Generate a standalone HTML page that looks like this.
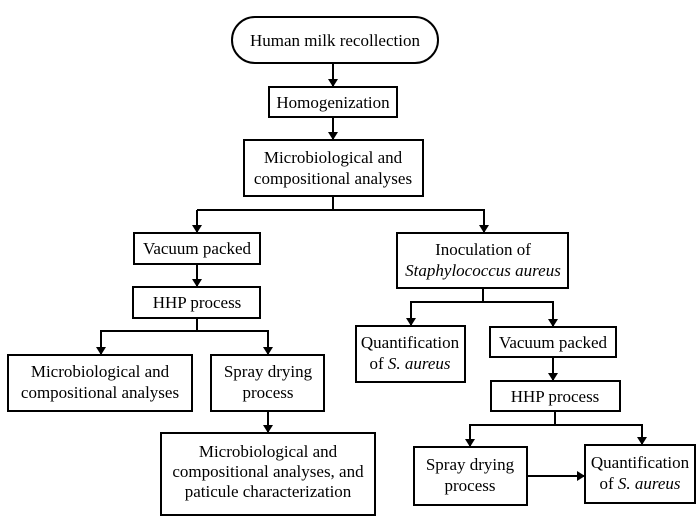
<!DOCTYPE html>
<html><head><meta charset="utf-8"><style>
html,body{margin:0;padding:0;background:#fff;}
svg{display:block;}
svg text{font-family:"Liberation Serif","DejaVu Serif",serif;font-size:17px;fill:#000;text-anchor:middle;}
.b{fill:#fff;stroke:#000;stroke-width:2;}
.l{stroke:#000;stroke-width:2;fill:none;}
</style></head><body>
<svg width="700" height="523" viewBox="0 0 700 523" xmlns="http://www.w3.org/2000/svg" font-family="Liberation Serif, serif">
<defs><marker id="a" markerWidth="8" markerHeight="10" refX="7" refY="5" orient="auto" markerUnits="userSpaceOnUse"><path d="M0,0 L8,5 L0,10 Z" fill="#000"/></marker></defs>
<rect class="b" x="232" y="17" width="206" height="46" rx="23"/>
<text x="335" y="46" font-family="Liberation Serif, serif">Human milk recollection</text>
<rect class="b" x="269" y="87" width="128" height="30"/>
<text x="333" y="108" font-family="Liberation Serif, serif">Homogenization</text>
<rect class="b" x="244" y="140" width="179" height="56"/>
<text x="333" y="163" font-family="Liberation Serif, serif">Microbiological and</text>
<text x="333" y="184" font-family="Liberation Serif, serif">compositional analyses</text>
<rect class="b" x="134" y="233" width="126" height="31"/>
<text x="197" y="254" font-family="Liberation Serif, serif">Vacuum packed</text>
<rect class="b" x="133" y="287" width="127" height="31"/>
<text x="197" y="308" font-family="Liberation Serif, serif">HHP process</text>
<rect class="b" x="8" y="355" width="184" height="56"/>
<text x="100" y="377" font-family="Liberation Serif, serif">Microbiological and</text>
<text x="100" y="398" font-family="Liberation Serif, serif">compositional analyses</text>
<rect class="b" x="211" y="355" width="113" height="56"/>
<text x="268" y="377" font-family="Liberation Serif, serif">Spray  drying</text>
<text x="268" y="398" font-family="Liberation Serif, serif">process</text>
<rect class="b" x="161" y="433" width="214" height="82"/>
<text x="268" y="457" font-family="Liberation Serif, serif">Microbiological and</text>
<text x="268" y="477" font-family="Liberation Serif, serif">compositional analyses,  and</text>
<text x="268" y="497" font-family="Liberation Serif, serif">paticule characterization</text>
<rect class="b" x="397" y="233" width="171" height="55"/>
<text x="483" y="255" font-family="Liberation Serif, serif">Inoculation of</text>
<text x="483" y="276" font-style="italic" font-family="Liberation Serif, serif">Staphylococcus aureus</text>
<rect class="b" x="356" y="326" width="109" height="56"/>
<text x="410" y="348" font-family="Liberation Serif, serif">Quantification</text>
<text x="410" y="369" font-family="Liberation Serif, serif">of <tspan font-style="italic">S. aureus</tspan></text>
<rect class="b" x="490" y="327" width="126" height="30"/>
<text x="553" y="348" font-family="Liberation Serif, serif">Vacuum packed</text>
<rect class="b" x="491" y="381" width="129" height="30"/>
<text x="555" y="402" font-family="Liberation Serif, serif">HHP process</text>
<rect class="b" x="414" y="447" width="113" height="58"/>
<text x="470" y="470" font-family="Liberation Serif, serif">Spray  drying</text>
<text x="470" y="491" font-family="Liberation Serif, serif">process</text>
<rect class="b" x="585" y="445" width="110" height="58"/>
<text x="640" y="468" font-family="Liberation Serif, serif">Quantification</text>
<text x="640" y="489" font-family="Liberation Serif, serif">of <tspan font-style="italic">S. aureus</tspan></text>
<path class="l" d="M333,63 V86" marker-end="url(#a)"/>
<path class="l" d="M333,117 V139" marker-end="url(#a)"/>
<path class="l" d="M333,196 V210 H197"/>
<path class="l" d="M197,210 V232" marker-end="url(#a)"/>
<path class="l" d="M333,210 H484 V232" marker-end="url(#a)"/>
<path class="l" d="M197,264 V286" marker-end="url(#a)"/>
<path class="l" d="M197,318 V331 H101 V354" marker-end="url(#a)"/>
<path class="l" d="M197,331 H268 V354" marker-end="url(#a)"/>
<path class="l" d="M268,411 V432" marker-end="url(#a)"/>
<path class="l" d="M483,288 V302 H411 V325" marker-end="url(#a)"/>
<path class="l" d="M483,302 H553 V326" marker-end="url(#a)"/>
<path class="l" d="M553,357 V380" marker-end="url(#a)"/>
<path class="l" d="M555,411 V425 H470 V446" marker-end="url(#a)"/>
<path class="l" d="M555,425 H642 V444" marker-end="url(#a)"/>
<path class="l" d="M527,476 H584" marker-end="url(#a)"/>
</svg>
</body></html>
